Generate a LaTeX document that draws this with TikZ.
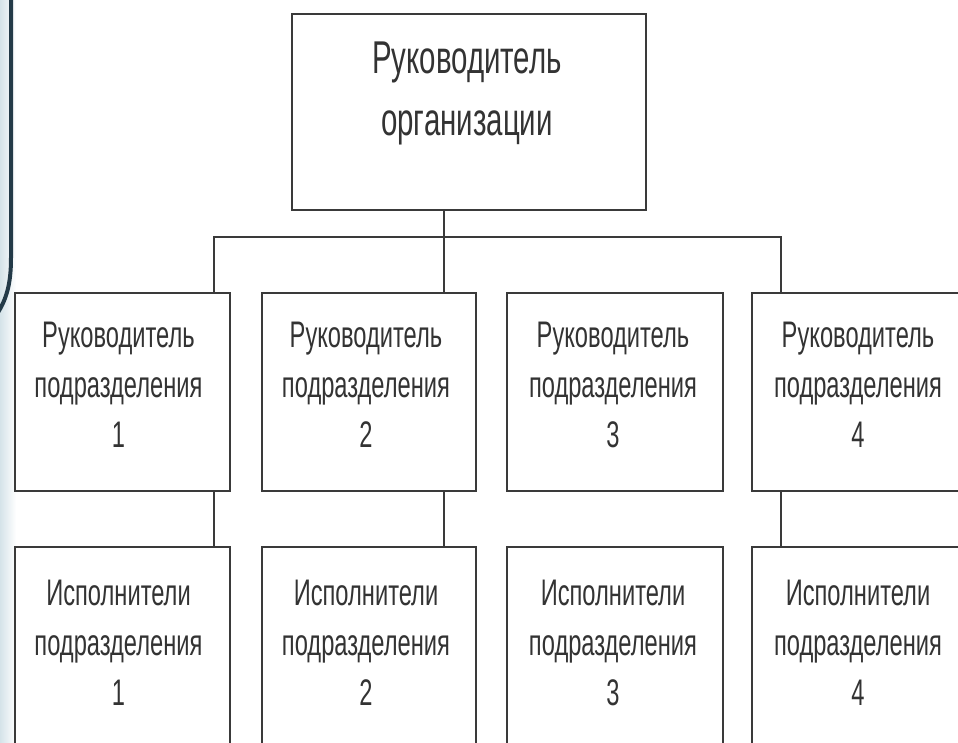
\documentclass[tikz,border=0pt]{standalone}
\usepackage{fontspec}
\setmainfont{Liberation Sans}[FakeStretch=0.64]
\begin{document}
\begin{tikzpicture}[x=1pt,y=-1pt,
  box/.style={draw=boxline,line width=2.8pt,rectangle,inner sep=0pt},
  lbl/.style={text=txtcol,align=center,inner sep=0pt,font=\fontsize{37}{50}\selectfont},
  toplbl/.style={text=txtcol,align=center,inner sep=0pt,font=\fontsize{46}{62}\selectfont},
  conn/.style={draw=boxline,line width=2pt}]
\definecolor{boxline}{HTML}{3A3A3A}
\definecolor{txtcol}{HTML}{333333}
\definecolor{framecol}{HTML}{233A48}
\definecolor{stripcol}{HTML}{D5E3E9}
\useasboundingbox (0,0) rectangle (958,743);
\clip (0,0) rectangle (958,743);
\fill[white] (0,0) rectangle (958,743);
% left decorative strip and frame
\shade[left color=stripcol,right color=white] (0,0) rectangle (16,743);
\draw[framecol,line width=4pt] (11,-5) -- (11,258) .. controls (11,285) and (6,300) .. (-3,314);
% boxes
\node[box,minimum width=354pt,minimum height=196pt] (top) at (469,112) {};
\node[box,minimum width=215pt,minimum height=198pt] (b1) at (122.5,392) {};
\node[box,minimum width=214pt,minimum height=198pt] (b2) at (369,392) {};
\node[box,minimum width=216pt,minimum height=198pt] (b3) at (615,392) {};
\node[box,minimum width=215pt,minimum height=198pt] (b4) at (859.5,392) {};
\node[box,minimum width=215pt,minimum height=220pt] (e1) at (122.5,657) {};
\node[box,minimum width=214pt,minimum height=220pt] (e2) at (369,657) {};
\node[box,minimum width=216pt,minimum height=220pt] (e3) at (615,657) {};
\node[box,minimum width=215pt,minimum height=220pt] (e4) at (859.5,657) {};
% texts
\node[toplbl] (ttop) at (467,93) {Руководитель\\организации};
\foreach \i/\x in {1/118.5,2/366,3/613,4/858}{
  \node[lbl] (tb\i) at (\x,385) {Руководитель\\подразделения\\\i};
  \node[lbl] (te\i) at (\x,643) {Исполнители\\подразделения\\\i};
}
% connectors
\coordinate (busL) at (214,237);
\coordinate (busR) at (781,237);
\coordinate (midx) at (444,237);
\draw[conn] (top.south -| midx) -- (b2.north -| midx);
\draw[conn] (b1.north -| busL) -- (busL) -- (busR) -- (b4.north -| busR);
\draw[conn] (b1.south -| busL) -- (e1.north -| busL);
\draw[conn] (b2.south -| midx) -- (e2.north -| midx);
\draw[conn] (b4.south -| busR) -- (e4.north -| busR);
\end{tikzpicture}
\end{document}
